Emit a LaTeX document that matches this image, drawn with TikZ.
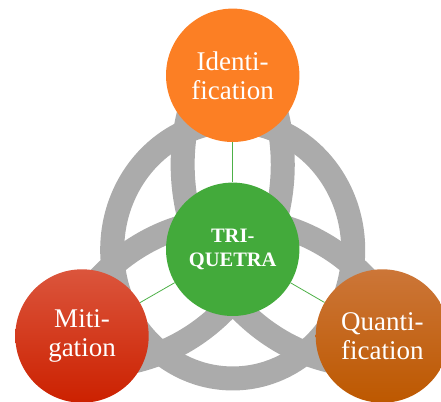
\documentclass[tikz,border=0pt]{standalone}
\usepackage{fontspec}
\setmainfont{Liberation Serif}
\usetikzlibrary{calc}
\definecolor{knotgray}{HTML}{ABABAB}
\definecolor{hubgreen}{HTML}{43AA3B}
\definecolor{linkgreen}{HTML}{4DB047}
\definecolor{idorange}{HTML}{FC7F24}
\definecolor{mittop}{HTML}{DB553C}
\definecolor{mitbot}{HTML}{CC2100}
\definecolor{quatop}{HTML}{CC7638}
\definecolor{quabot}{HTML}{BD5800}
\begin{document}
\begin{tikzpicture}[x=1pt,y=1pt,
  band/.style={draw=knotgray, line width=24pt},
  stage/.style={circle, minimum size=133.4pt, inner sep=0pt, text=white,
    align=center, font=\fontsize{27}{29}\selectfont},
  hub/.style={stage, fill=hubgreen, font=\fontsize{20.5}{24.5}\selectfont\bfseries},
  link/.style={draw=linkgreen, line width=0.8pt}]
\useasboundingbox (0,0) rectangle (441,401);
% triquetra interlaced with a ring, slightly stretched vertically
\begin{scope}[shift={(232.7,151)}, yscale=1.066]
  \draw[band] (0,0) circle[radius=120.5];
  \foreach \t in {30,150,270}{
    \draw[band] ($(\t:160.2)+(\t+107.3:188.8)$)
      arc[start angle=\t+107.3, end angle=\t+252.7, radius=188.8];
  }
\end{scope}
% the four stages
\node[hub] (hub) at (232.7,151.7) {TRI-\\QUETRA};
\node[stage, fill=idorange] (ident) at (232.7,325.7) {Identi-\\fication};
\node[stage, top color=mittop, bottom color=mitbot] (mitig) at (82,65) {Miti-\\gation};
\node[stage, top color=quatop, bottom color=quabot] (quant) at (382.4,65) {Quanti-\\fication};
% links from the hub
\draw[link] (hub) -- (ident);
\draw[link] (hub) -- (mitig);
\draw[link] (hub) -- (quant);
\end{tikzpicture}
\end{document}
